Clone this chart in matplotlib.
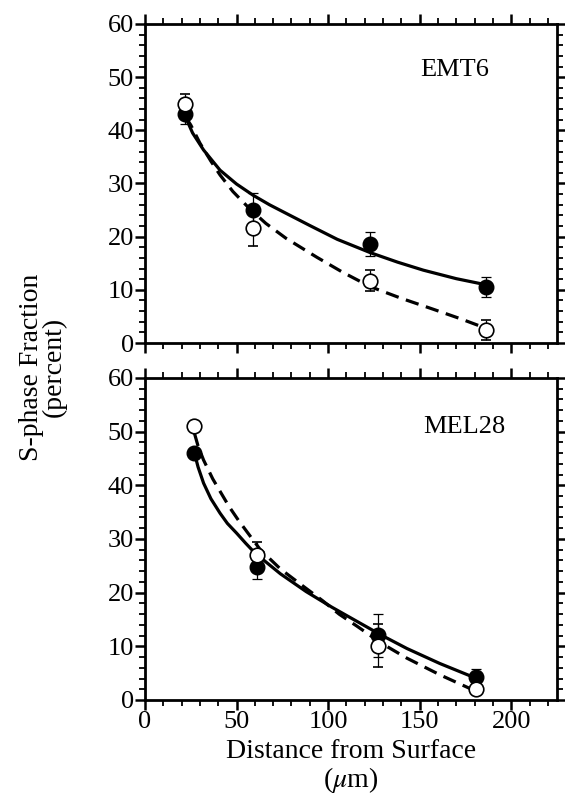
import matplotlib
matplotlib.use("Agg")
import matplotlib.pyplot as plt
from matplotlib.ticker import MultipleLocator

plt.rcParams['font.family'] = ['Liberation Serif', 'DejaVu Serif']
plt.rcParams['mathtext.fontset'] = 'stix'

# measured points (distance in um, S-phase %)
emt6_x = [22, 59, 123, 186]
emt6_filled = [43, 25, 18.6, 10.6]
emt6_filled_err = [1.9, 3.3, 2.2, 1.9]
emt6_open = [45, 21.6, 11.7, 2.4]
emt6_open_err = [1.9, 3.4, 2.0, 1.9]

mel28_x = [27, 61, 127, 181]
mel28_filled = [46, 24.8, 12.1, 4.3]
mel28_filled_err = [0.0, 2.3, 4.0, 1.4]
mel28_open = [51, 27, 10.1, 2.0]
mel28_open_err = [0.0, 2.5, 4.0, 0.0]

# fitted curves
emt6_solid_x = [22, 26, 32, 41, 50, 59, 68, 77, 90, 105, 123, 138, 152, 170, 187]
emt6_solid_y = [42.6, 39.5, 36.3, 32.5, 29.9, 27.8, 26.0, 24.4, 22.1, 19.5, 17.0, 15.2, 13.7, 12.1, 10.9]
emt6_dash_x = [22, 25, 30, 36, 41, 48, 57, 66, 77, 94, 108, 123, 140, 157, 172, 186]
emt6_dash_y = [42.6, 41.0, 37.6, 34.2, 31.6, 28.5, 25.3, 22.5, 19.7, 16.1, 13.3, 10.6, 8.4, 6.4, 4.6, 2.8]

mel28_solid_x = [27, 29, 32, 36, 41, 45, 50, 55, 60, 74, 88, 102, 116, 129, 143, 161, 179]
mel28_solid_y = [46.0, 43.4, 40.4, 37.5, 34.8, 32.9, 31.1, 29.2, 27.4, 23.5, 20.2, 17.3, 14.6, 12.1, 9.6, 6.8, 4.3]
mel28_dash_x = [27, 29, 32, 37, 42, 46, 51, 56, 63, 74, 86, 97, 106, 116, 129, 143, 161, 179]
mel28_dash_y = [49.7, 47.3, 44.7, 41.2, 38.3, 36.0, 33.5, 31.2, 28.0, 24.4, 21.3, 18.5, 16.0, 13.7, 10.6, 7.8, 4.7, 1.9]

fig = plt.figure(figsize=(5.65, 7.94), dpi=100)
ax1 = fig.add_axes([0.2566, 0.568, 0.7292, 0.4018])
ax2 = fig.add_axes([0.2566, 0.1184, 0.7292, 0.4056])

panels = [
    (ax1, 'EMT6', 0.668, 0.856, emt6_x, emt6_filled, emt6_filled_err, emt6_open, emt6_open_err,
     emt6_solid_x, emt6_solid_y, emt6_dash_x, emt6_dash_y),
    (ax2, 'MEL28', 0.675, 0.848, mel28_x, mel28_filled, mel28_filled_err, mel28_open, mel28_open_err,
     mel28_solid_x, mel28_solid_y, mel28_dash_x, mel28_dash_y),
]

for ax, name, lx, ly, x, yf, ef, yo, eo, sx, sy, dx, dy in panels:
    ax.plot(sx, sy, color='black', lw=2.3, solid_joinstyle='round', zorder=2)
    ax.plot(dx, dy, color='black', lw=2.3, dashes=(4.2, 2.4), zorder=2)
    ax.errorbar(x, yf, yerr=ef, fmt='o', color='black', ms=10.5, mfc='black', mec='black',
                elinewidth=0.9, capsize=3.8, capthick=0.9, zorder=3)
    ax.errorbar(x, yo, yerr=eo, fmt='o', color='black', ms=10.5, mfc='white', mec='black',
                mew=1.2, elinewidth=0.9, capsize=3.8, capthick=0.9, zorder=4)
    ax.set_xlim(0, 225)
    ax.set_ylim(0, 60)
    ax.xaxis.set_major_locator(MultipleLocator(50))
    ax.xaxis.set_minor_locator(MultipleLocator(10))
    ax.yaxis.set_major_locator(MultipleLocator(10))
    ax.yaxis.set_minor_locator(MultipleLocator(2))
    ax.tick_params(which='both', direction='out', top=True, right=True, labelsize=19)
    ax.tick_params(which='major', length=7, width=1.8, pad=1)
    ax.tick_params(which='minor', length=4, width=1.3)
    for sp in ax.spines.values():
        sp.set_linewidth(2.0)
    ax.text(lx, ly, name, transform=ax.transAxes, fontsize=19, ha='left', va='center')

ax1.set_xticklabels([])
ax2.set_xlabel('Distance from Surface\n($\\mu$m)', fontsize=20, linespacing=1.05, labelpad=4)
fig.text(0.076, 0.538, 'S-phase Fraction\n(percent)', rotation=90, fontsize=20,
         ha='center', va='center', linespacing=0.9)

fig.savefig('out.png', dpi=100)
